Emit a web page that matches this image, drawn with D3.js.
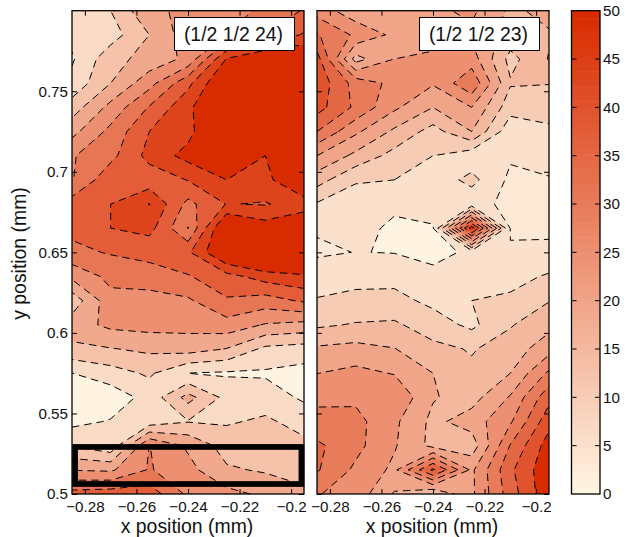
<!DOCTYPE html>
<html>
<head>
<meta charset="utf-8">
<script src="https://cdn.jsdelivr.net/npm/d3@7"></script>
<style>
  body { margin: 0; background: #fff; }
  text { font-family: "Liberation Sans", Arial, sans-serif; fill: #111; }
</style>
</head>
<body>
<svg id="chart" width="634" height="537"></svg>
<script>
// measurement grid, one row per y position from 0.8 down to 0.5
const gridX = [-0.285, -0.27, -0.255, -0.24, -0.225, -0.21, -0.195];
const gridY = [0.8, 0.785, 0.77, 0.755, 0.74, 0.725, 0.71, 0.695, 0.68, 0.665, 0.65,
               0.635, 0.62, 0.605, 0.59, 0.575, 0.56, 0.545, 0.53, 0.515, 0.5];

const leftValues = [
  [9, 12.5, 24, 26, 28, 33, 38],
  [8, 9.6, 18.75, 28.5, 31, 37.5, 44.5],
  [5.5, 16.6, 21, 26.5, 50.5, 57, 58],
  [8, 18.75, 29, 42, 58, 62, 62],
  [15.5, 27, 38, 48.5, 60, 62, 62],
  [23, 33, 43.75, 48, 60, 62, 63],
  [30.7, 35.7, 45.8, 52.2, 56, 50, 54],
  [30.8, 42, 40, 44, 50, 48, 58],
  [40.5, 43.75, 50.2, 35.7, 44, 43.3, 46.6],
  [39, 43.75, 46, 31, 59, 53.3, 57],
  [36, 38, 39, 42.7, 58, 64, 62],
  [26.5, 33, 35.4, 37, 41.5, 46.5, 49],
  [14.7, 29.2, 28, 30.3, 36.8, 34.7, 38.4],
  [22, 26.5, 27.3, 27, 28.7, 24.5, 23],
  [17.3, 18.4, 20, 21.4, 18.5, 11, 9.75],
  [6.2, 9.8, 13.5, 6.2, 5.5, 5.4, 4],
  [3, 2.5, 8.5, 21, 10.5, 9.5, 5.2],
  [4.5, 6.7, 9, 12.2, 11.8, 13.5, 10.2],
  [12, 8, 31.4, 24, 16, 15, 14],
  [24.7, 24, 31.8, 27, 19.6, 18, 16.5],
  [40, 41, 41, 30, 27, 23.7, 20]
];

const rightValues = [
  [28, 21.6, 22, 24, 26, 19, 21.5],
  [35.5, 29.1, 23.8, 22, 24, 18, 19.5],
  [42, 18, 25, 26.5, 27.5, 13.3, 20.3],
  [43.5, 33, 28.6, 25.5, 34, 15.5, 15.2],
  [42, 34, 26, 20, 25, 12, 11.5],
  [35, 26, 19, 13, 20, 6.6, 9.3],
  [25, 18.7, 13.2, 10, 6.8, 5.6, 7.2],
  [17.2, 10.4, 10, 7, 11.5, 3.95, 4.6],
  [9.5, 8, 7.5, 6.5, 6.5, 3.95, 4.3],
  [5.5, 9.5, 2.5, 4.7, 48, 4.8, 4.4],
  [4.2, 5.1, 4.85, 1.5, 7, 5.2, 5.7],
  [8, 8.5, 8.5, 8.2, 8, 8, 10.7],
  [10.3, 11.3, 11.5, 8.8, 10, 11.1, 14.8],
  [14.2, 15.4, 15.8, 12.4, 8.85, 14.6, 18.5],
  [20.8, 21.7, 20.2, 16.4, 14.6, 17.3, 23],
  [24.9, 26.4, 24.7, 20, 16, 20, 31],
  [29, 29, 29.4, 20.4, 18, 25.5, 38.4],
  [31.5, 31.6, 26, 18.7, 22.4, 29.3, 43.2],
  [36, 31.5, 25.5, 18.5, 17, 35.3, 47.5],
  [35.5, 29, 23.9, 41, 24, 39, 49],
  [30.3, 28, 19.5, 15, 24, 37.5, 49]
];

const leftLevels = [0, 6.25, 12.5, 18.75, 25, 31.25, 37.5, 43.75, 50];
const rightLevels = [0, 5, 10, 15, 20, 25, 30, 35, 40, 45];

const xTicks = [-0.28, -0.26, -0.24, -0.22, -0.2];
const yTicks = [0.5, 0.55, 0.6, 0.65, 0.7, 0.75];
const barTicks = [0, 5, 10, 15, 20, 25, 30, 35, 40, 45, 50];

// black box marking the region of interest in the left panel
const boxX = [-0.2838, -0.196];
const boxY = [0.5062, 0.5292];

const plotTop = 10.7, plotBottom = 494;
const tickFont = 15.2, labelFont = 19.4;
const svg = d3.select('#chart');
const color = d3.scaleLinear().domain([0, 50]).range(['#fff4e2', '#d92b00']);
const y = d3.scaleLinear().domain([0.5, 0.8]).range([plotBottom, plotTop]);

// opts.lowBand: colour value of the lowest band
// opts.creamAt: [col, row] of a grid point whose closed depression is painted at value 0
function drawPanel(id, left, right, values, levels, label, opts) {
  const x = d3.scaleLinear().domain([-0.285, -0.195]).range([left, right]);
  const g = svg.append('g');

  g.append('clipPath').attr('id', id)
    .append('rect').attr('x', left).attr('y', plotTop).attr('width', right - left).attr('height', plotBottom - plotTop);

  // d3.contours puts grid value i at coordinate i + 0.5
  const dx = gridX[1] - gridX[0], dy = gridY[1] - gridY[0];
  const project = d3.geoTransform({
    point(cx, cy) {
      this.stream.point(x(gridX[0] + (cx - 0.5) * dx), y(gridY[0] + (cy - 0.5) * dy));
    }
  });
  const path = d3.geoPath(project);

  const contours = d3.contours().size([gridX.length, gridY.length]).smooth(true);
  const flat = values.flat();
  const bands = levels.map(l => contours.contour(flat, l));

  const plot = g.append('g').attr('clip-path', `url(#${id})`);
  plot.selectAll('path.band').data(bands).enter().append('path')
    .attr('class', 'band')
    .attr('d', path)
    .attr('fill', d => color(d.value === 0 ? opts.lowBand : d.value >= 45 ? 50 : d.value));

  if (opts.creamAt) {
    const seed = [opts.creamAt[0] + 0.5, opts.creamAt[1] + 0.5];
    const holes = bands[1].coordinates.flatMap(poly => poly.slice(1));
    const ring = holes.find(r => d3.polygonContains(r, seed));
    if (ring) {
      plot.append('path').attr('d', path({ type: 'Polygon', coordinates: [ring] }))
        .attr('fill', color(0));
    }
  }

  plot.selectAll('path.line').data(bands.slice(1)).enter().append('path')
    .attr('class', 'line')
    .attr('d', path)
    .attr('fill', 'none')
    .attr('stroke', '#000')
    .attr('stroke-width', 1)
    .attr('stroke-dasharray', '7.5 5');

  // inward ticks on all four sides
  const fmt = d3.format('');
  const axes = [
    [d3.axisBottom(x).tickValues(xTicks).tickFormat(fmt), `translate(0,${plotBottom})`],
    [d3.axisTop(x).tickValues(xTicks).tickFormat(''), `translate(0,${plotTop})`],
    [d3.axisLeft(y).tickValues(yTicks).tickFormat(''), `translate(${left},0)`],
    [d3.axisRight(y).tickValues(yTicks).tickFormat(''), `translate(${right},0)`]
  ];
  axes.forEach(([axis, tr]) => {
    const a = g.append('g').attr('transform', tr)
      .call(axis.tickSizeInner(-5).tickSizeOuter(0).tickPadding(7));
    a.select('.domain').remove();
    a.selectAll('line').attr('stroke', '#000').attr('stroke-width', 1);
    a.selectAll('text').attr('font-size', tickFont);
    a.attr('font-family', null);
  });

  g.append('rect').attr('x', left).attr('y', plotTop).attr('width', right - left).attr('height', plotBottom - plotTop)
    .attr('fill', 'none').attr('stroke', '#000').attr('stroke-width', 1.3);

  // sample label in a white box
  const boxRight = right - 9.5;
  g.append('rect').attr('x', boxRight - 120).attr('y', 17.5).attr('width', 120).attr('height', 33)
    .attr('fill', '#fff').attr('stroke', '#000').attr('stroke-width', 1);
  g.append('text').attr('x', boxRight - 61).attr('y', 40.5).attr('text-anchor', 'middle')
    .attr('font-size', labelFont).text(label);

  g.append('text').attr('x', (left + right) / 2 - 1).attr('y', 533).attr('text-anchor', 'middle')
    .attr('font-size', labelFont).text('x position (mm)');

  return { g, x };
}

const leftPanel = drawPanel('clip-left', 72, 304, leftValues, leftLevels, '(1/2 1/2 24)', { lowBand: 0 });
drawPanel('clip-right', 317, 549, rightValues, rightLevels, '(1/2 1/2 23)', { lowBand: 2.75, creamAt: [3, 10] });

leftPanel.g.append('rect')
  .attr('x', leftPanel.x(boxX[0])).attr('y', y(boxY[1]))
  .attr('width', leftPanel.x(boxX[1]) - leftPanel.x(boxX[0])).attr('height', y(boxY[0]) - y(boxY[1]))
  .attr('fill', 'none').attr('stroke', '#000').attr('stroke-width', 5.7);

// y axis labels, left panel only
const yAxis = svg.append('g').attr('transform', 'translate(72,0)')
  .call(d3.axisLeft(y).tickValues(yTicks).tickFormat(d3.format('')).tickSize(0).tickPadding(4));
yAxis.select('.domain').remove();
yAxis.selectAll('text').attr('font-size', tickFont);
yAxis.attr('font-family', null);

svg.append('text').attr('transform', 'translate(26,253.5) rotate(-90)').attr('text-anchor', 'middle')
  .attr('font-size', labelFont).text('y position (mm)');

// colour bar
const barLeft = 571.5, barRight = 600;
const barY = d3.scaleLinear().domain([0, 50]).range([plotBottom, plotTop]);
const steps = d3.range(64);
svg.append('g').selectAll('rect').data(steps).enter().append('rect')
  .attr('x', barLeft).attr('width', barRight - barLeft)
  .attr('y', d => barY((d + 1) * 50 / 64))
  .attr('height', (plotBottom - plotTop) / 64 + 0.5)
  .attr('fill', d => color(d * 50 / 63));
svg.append('rect').attr('x', barLeft).attr('y', plotTop).attr('width', barRight - barLeft).attr('height', plotBottom - plotTop)
  .attr('fill', 'none').attr('stroke', '#000').attr('stroke-width', 1.3);
const barAxis = svg.append('g').attr('transform', `translate(${barRight},0)`)
  .call(d3.axisRight(barY).tickValues(barTicks).tickSize(0).tickPadding(3));
barAxis.select('.domain').remove();
barAxis.selectAll('text').attr('font-size', tickFont);
barAxis.attr('font-family', null);
svg.append('g').selectAll('path').data(barTicks.slice(1, -1)).enter().append('path')
  .attr('d', d => `M${barLeft},${barY(d)}h5M${barRight},${barY(d)}h-5`)
  .attr('stroke', '#000').attr('stroke-width', 1).attr('fill', 'none');
</script>
</body>
</html>
